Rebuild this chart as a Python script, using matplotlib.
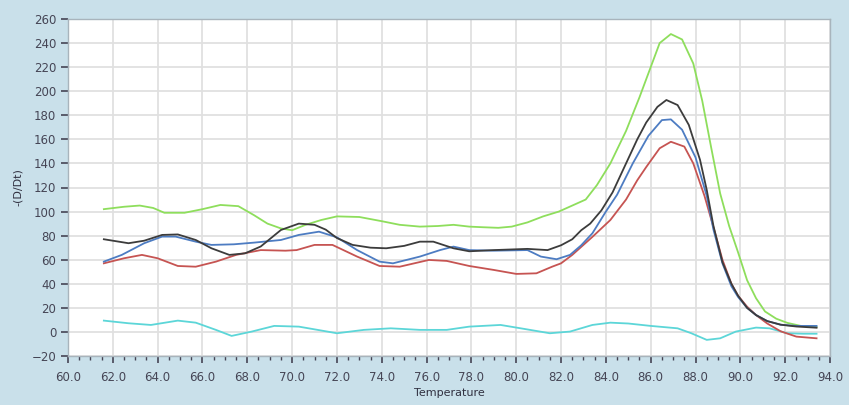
import matplotlib
matplotlib.use("Agg")
import matplotlib.pyplot as plt
from matplotlib.ticker import MultipleLocator, FormatStrFormatter

# ---- data ----
green_x = [61.6,62.5,63.2,63.8,64.3,65.2,66.0,66.8,67.6,68.3,68.9,69.5,70.0,70.6,71.3,72.0,73.0,74.0,74.8,75.7,
           76.5,77.2,77.9,78.5,79.2,79.8,80.5,81.2,81.9,82.5,83.1,83.6,84.2,84.9,85.5,86.0,86.4,86.9,87.4,87.9,
           88.3,88.7,89.1,89.5,89.9,90.3,90.7,91.1,91.6,92.1,92.7,93.4]
green_y = [102,104,105,103,99,99,102,105.5,104.5,97,90,86,84.5,89,93,96,95.5,92,89,87.5,
           88,89,87.5,87,86.5,87.5,91,96,100,105,110,122,140,167,195,220,240,247.5,243,223,
           192,153,115,88,66,43,28,17,11,7.5,5,4]

black_x = [61.6,62.7,63.4,64.2,64.9,65.7,66.4,67.2,67.9,68.6,69.5,70.3,71.0,71.5,72.0,72.7,73.5,74.2,75.0,75.7,
           76.3,77.2,77.9,79.0,80.5,81.4,82.0,82.5,82.9,83.3,83.8,84.3,84.9,85.4,85.8,86.3,86.7,87.2,87.7,88.2,
           88.5,88.8,89.2,89.6,89.9,90.3,90.7,91.2,91.8,92.5,93.4]
black_y = [77,73.7,75.8,80.6,81,76.4,69.5,64,65.3,71,84.7,90,89,85,78,72.3,70,69.5,71.5,75,
           75,69.5,67,68,69,68,72,77,84.5,90,101,116,140,160,174,187,192.7,188.5,172,143,
           118,88,58,40,30,20,14,9,6,4.5,3.5]

blue_x = [61.6,62.4,63.4,64.2,64.8,65.7,66.4,67.4,68.3,69.5,70.3,71.2,72.0,72.9,73.9,74.5,75.7,76.6,77.2,77.9,
          79.0,80.5,81.1,81.8,82.4,82.9,83.4,84.0,84.5,85.2,85.9,86.5,86.9,87.4,88.0,88.5,88.8,89.2,89.6,89.9,
          90.3,90.7,91.2,91.8,92.5,93.4]
blue_y = [58.4,64,73.7,79.2,79.2,75,72.3,72.8,74.2,76.4,80.6,83.3,78.6,68,58.4,57,62.6,68,70.9,68,
          67.5,68,62.6,60.4,64,72,82,100,114,140,163,176,176.6,168,145,113,85,57,38,29,
          20,14,9,6,5,5]

red_x = [61.6,62.5,63.3,64.0,64.9,65.7,66.6,67.5,68.6,69.7,70.2,71.0,71.8,72.9,73.9,74.8,76.1,76.9,77.9,79.0,
         80.0,80.9,81.6,82.0,82.5,83.4,84.2,84.9,85.4,85.8,86.4,86.9,87.5,87.9,88.4,88.8,89.2,89.6,89.9,90.3,
         90.7,91.2,91.8,92.5,93.4]
red_y = [57,61.2,64,61.2,54.8,54.2,58.4,64,68,67.5,68,72.3,72.3,62.6,54.8,54.2,59.8,59,54.8,51.5,
         48.2,48.7,54.2,57,64,79,93,110,126,137,152.6,158,154,140,113,87,60,40,30,21,
         14,7,0.5,-3.9,-5.3]

cyan_x = [61.6,62.7,63.7,64.9,65.7,66.6,67.3,68.2,69.2,70.3,71.2,72.0,73.2,74.4,75.7,76.9,77.9,79.3,80.2,81.5,
          82.4,83.4,84.2,85.0,86.0,87.2,87.8,88.5,89.1,89.8,90.7,91.3,92.1,92.8,93.4]
cyan_y = [9.4,7.2,5.8,9.4,7.7,1.7,-3.3,0.3,5,4.4,1.5,-1.1,1.7,3,1.7,1.7,4.4,5.8,3,-1.1,
          0.3,5.8,7.7,7,5,3,-1,-6.6,-5.3,0.3,3.6,3,-1.1,-1.5,-1.5]

x_label = "Temperature"
y_label = "-(D/Dt)"

# ---- figure ----
bg = "#c9e0ea"
fig = plt.figure(figsize=(8.49, 4.05), dpi=100, facecolor=bg)
ax = fig.add_axes([68/849, 1-356/405, 762/849, 337/405])
ax.set_facecolor("white")

series = [
    (cyan_x, cyan_y, "#5cd6d8"),
    (green_x, green_y, "#8ede5c"),
    (red_x, red_y, "#c65452"),
    (blue_x, blue_y, "#4d7cc2"),
    (black_x, black_y, "#3c3c3c"),
]
for xs, ys, c in series:
    ax.plot(xs, ys, color=c, lw=1.3, solid_joinstyle="round")

ax.set_xlim(60, 94)
ax.set_ylim(-20, 260)
ax.xaxis.set_major_locator(MultipleLocator(2))
ax.xaxis.set_minor_locator(MultipleLocator(0.5))
ax.xaxis.set_major_formatter(FormatStrFormatter("%.1f"))
ax.yaxis.set_major_locator(MultipleLocator(20))

ax.grid(True, which="major", color="#e0e0e0", lw=1.3)
ax.set_axisbelow(True)

tick_col = "#454555"
ax.tick_params(axis="both", which="major", labelsize=8.5, colors=tick_col, length=5, width=1.2)
ax.tick_params(axis="x", which="major", pad=6)
ax.tick_params(axis="x", which="minor", length=3, width=1.0, colors=tick_col)
for lab in ax.get_xticklabels() + ax.get_yticklabels():
    lab.set_color(tick_col)

for s in ax.spines.values():
    s.set_color("#a8b4bc")
    s.set_linewidth(1.0)

ax.set_xlabel(x_label, fontsize=8, color="#303040", labelpad=3)
ax.set_ylabel(y_label, fontsize=8, color="#303040", labelpad=6)

fig.savefig("out.png", dpi=100, facecolor=bg)
